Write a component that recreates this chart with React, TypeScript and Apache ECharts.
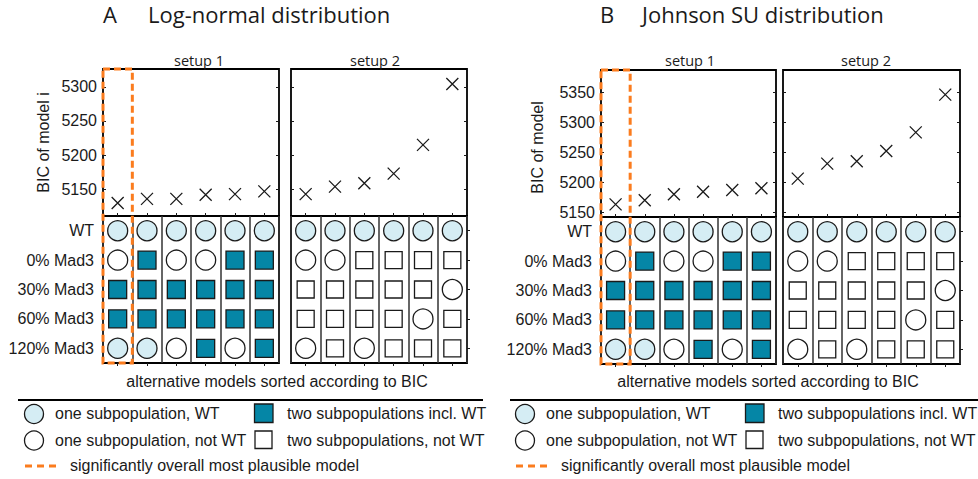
import React, { useEffect, useRef } from 'react';
import * as echarts from 'echarts';

// ---------------- data ----------------
const MODEL_IDS = ['1', '2', '3', '4', '5', '6'];
const ROW_LABELS = ['WT', '0% Mad3', '30% Mad3', '60% Mad3', '120% Mad3'];

const A_TICKS = [5150, 5200, 5250, 5300];
const B_TICKS = [5150, 5200, 5250, 5300, 5350];

const A_SETUP1_BIC = [5130, 5136, 5136, 5142, 5143, 5147];
const A_SETUP2_BIC = [5143, 5154, 5159, 5173, 5215, 5304];
const B_SETUP1_BIC = [5163, 5170, 5180, 5184, 5187, 5190];
const B_SETUP2_BIC = [5206, 5231, 5235, 5252, 5283, 5346];

// W = one subpopulation, WT; O = one subpopulation, not WT
// T = two subpopulations incl. WT; S = two subpopulations, not WT
// one string per row (WT, 0%, 30%, 60%, 120%), one char per model column
const A_SETUP1_MODELS = ['WWWWWW', 'OTOOTT', 'TTTTTT', 'TTTTTT', 'WWOTOT'];
const A_SETUP2_MODELS = ['WWWWWW', 'OOSSSS', 'SSSSSO', 'SSSSOS', 'OSOSSS'];
const B_SETUP1_MODELS = ['WWWWWW', 'OTOOTT', 'TTTTTT', 'TTTTTT', 'WWOTOT'];
const B_SETUP2_MODELS = ['WWWWWW', 'OOSSSS', 'SSSSSO', 'SSSSOS', 'OSOSSS'];

const SETUP_LABELS = ['setup 1', 'setup 2'];
const X_NAME = 'alternative models sorted according to BIC';
const LEGEND_LABELS = {
  W: 'one subpopulation, WT',
  T: 'two subpopulations incl. WT',
  O: 'one subpopulation, not WT',
  S: 'two subpopulations, not WT',
  best: 'significantly overall most plausible model',
};

// ---------------- styles ----------------
const ARIAL = '"Liberation Sans", Arial, Helvetica, sans-serif';
const TITLE_FONT = '"Open Sans", "Noto Sans", sans-serif';
const INK = '#1a1a1a';
const LIGHT_BLUE = '#d5edf4';
const TEAL = '#0586a6';
const ORANGE = '#fb7c1e';

const CELL_STYLE: Record<string, { symbol: string; size: number; fill: string }> = {
  W: { symbol: 'circle', size: 20, fill: LIGHT_BLUE },
  O: { symbol: 'circle', size: 20, fill: '#ffffff' },
  T: { symbol: 'rect', size: 18, fill: TEAL },
  S: { symbol: 'rect', size: 17, fill: '#ffffff' },
};

const CROSS = 'path://M0 0L10 10M10 0L0 10';

const PANELS = [
  {
    letter: 'A',
    title: 'Log-normal distribution',
    letterX: 103,
    titleX: 148,
    yName: 'BIC of model i',
    nameGap: 52,
    namePad: [0, 0, 0, 0],
    s1: [103, 176],
    s2: [291, 176],
    top: 69,
    mid: 216,
    bottom: 363,
    yMin: 5111,
    yMax: 5326,
    ticks: A_TICKS,
    bic: [A_SETUP1_BIC, A_SETUP2_BIC],
    models: [A_SETUP1_MODELS, A_SETUP2_MODELS],
    setupX: [199, 375],
    xNameX: 277,
    legLeft: 0,
    sepX: [18, 483],
  },
  {
    letter: 'B',
    title: 'Johnson SU distribution',
    letterX: 600,
    titleX: 642,
    yName: 'BIC of model',
    nameGap: 56,
    namePad: [0, 8, 0, 0],
    s1: [601, 175],
    s2: [783, 177],
    top: 70,
    mid: 217,
    bottom: 364,
    yMin: 5142,
    yMax: 5387,
    ticks: B_TICKS,
    bic: [B_SETUP1_BIC, B_SETUP2_BIC],
    models: [B_SETUP1_MODELS, B_SETUP2_MODELS],
    setupX: [690, 866],
    xNameX: 768,
    legLeft: 491,
    sepX: [510, 978],
  },
];

function buildOption() {
  const grid: any[] = [];
  const xAxis: any[] = [];
  const yAxis: any[] = [];
  const series: any[] = [];
  const graphic: any[] = [];

  const txt = (x: number, y: number, text: string, extra: any = {}) => ({
    type: 'text',
    x,
    y,
    silent: true,
    style: {
      text,
      fill: INK,
      font: `16px ${ARIAL}`,
      verticalAlign: 'middle',
      align: 'left',
      ...extra,
    },
  });

  PANELS.forEach((p) => {
    [p.s1, p.s2].forEach((sx, si) => {
      const first = si === 0;
      const gs = grid.length;
      grid.push({
        left: sx[0], width: sx[1], top: p.top, height: p.mid - p.top,
        show: true, borderColor: '#000', borderWidth: 1.8,
        containLabel: false, outerBoundsMode: 'none',
      });
      const gm = grid.length;
      grid.push({
        left: sx[0], width: sx[1], top: p.mid, height: p.bottom - p.mid,
        show: true, borderColor: '#000', borderWidth: 1.8,
        containLabel: false, outerBoundsMode: 'none',
      });

      const xs = xAxis.length;
      xAxis.push({
        gridIndex: gs, type: 'category', data: MODEL_IDS, boundaryGap: true,
        axisLine: { show: false }, axisLabel: { show: false },
        axisTick: { show: true, inside: true, length: 3, alignWithLabel: true, interval: 0, lineStyle: { color: INK, width: 1 } },
        splitLine: { show: false },
      });
      const xm = xAxis.length;
      xAxis.push({
        gridIndex: gm, type: 'category', data: MODEL_IDS, boundaryGap: true,
        axisLine: { show: false }, axisLabel: { show: false },
        axisTick: { show: true, inside: false, length: 3, alignWithLabel: true, interval: 0, lineStyle: { color: INK, width: 1 } },
        splitLine: { show: true, interval: 0, lineStyle: { color: '#333', width: 1.5 } },
      });

      const yl = yAxis.length;
      yAxis.push({
        gridIndex: gs, type: 'value', position: 'left', min: p.yMin, max: p.yMax,
        axisLine: { show: false }, splitLine: { show: false },
        axisTick: { show: true, inside: true, length: 3, customValues: p.ticks, lineStyle: { color: INK, width: 1 } },
        axisLabel: {
          show: first, customValues: p.ticks, margin: 6, fontSize: 16, fontFamily: ARIAL, color: INK,
          formatter: (v: number) => String(v),
        },
        name: first ? p.yName : '',
        nameLocation: 'middle',
        nameGap: p.nameGap,
        nameMoveOverlap: false,
        nameTextStyle: { fontSize: 16, fontFamily: ARIAL, color: INK, padding: p.namePad },
      });
      yAxis.push({
        gridIndex: gs, type: 'value', position: 'right', min: p.yMin, max: p.yMax,
        axisLine: { show: false }, splitLine: { show: false },
        axisTick: { show: true, inside: true, length: 3, customValues: p.ticks, lineStyle: { color: INK, width: 1 } },
        axisLabel: { show: false },
      });
      const ym = yAxis.length;
      yAxis.push({
        gridIndex: gm, type: 'category', data: ROW_LABELS, inverse: true,
        position: first ? 'left' : 'right',
        axisLine: { show: false }, splitLine: { show: false },
        axisTick: { show: !first, alignWithLabel: true, length: 3, interval: 0, lineStyle: { color: INK, width: 1 } },
        axisLabel: { show: first, interval: 0, margin: 9, fontSize: 16, fontFamily: ARIAL, color: INK },
      });

      series.push({
        type: 'scatter', xAxisIndex: xs, yAxisIndex: yl, silent: true,
        symbol: CROSS, symbolSize: 12,
        itemStyle: { color: 'rgba(0,0,0,0)', borderColor: INK, borderWidth: 1.3, opacity: 1 },
        data: p.bic[si].map((v, i) => [MODEL_IDS[i], v]),
      });

      const cells: any[] = [];
      p.models[si].forEach((row, r) => {
        row.split('').forEach((code, c) => {
          const st = CELL_STYLE[code];
          cells.push({
            value: [MODEL_IDS[c], ROW_LABELS[r]],
            symbol: st.symbol,
            symbolSize: st.size,
            itemStyle: { color: st.fill, borderColor: INK, borderWidth: 1.3, opacity: 1 },
          });
        });
      });
      series.push({ type: 'scatter', xAxisIndex: xm, yAxisIndex: ym, silent: true, data: cells });

      graphic.push(txt(p.setupX[si], 60, SETUP_LABELS[si], { font: `14.5px ${TITLE_FONT}`, align: 'center' }));
    });

    // titles
    graphic.push(txt(p.letterX, 14, p.letter, { font: `22px ${TITLE_FONT}` }));
    graphic.push(txt(p.titleX, 14, p.title, { font: `22px ${TITLE_FONT}` }));
    // x name
    graphic.push(txt(p.xNameX, 381, X_NAME, { align: 'center' }));

    // highlighted best model (first column of setup 1)
    graphic.push({
      type: 'rect', z: 100, silent: true,
      shape: { x: p.s1[0], y: p.top, width: p.s1[1] / MODEL_IDS.length, height: p.bottom - p.top },
      style: { fill: 'none', stroke: ORANGE, lineWidth: 3, lineDash: [7, 4] },
    });

    // legend
    const L = p.legLeft;
    graphic.push({
      type: 'line', silent: true,
      shape: { x1: p.sepX[0], y1: 400, x2: p.sepX[1], y2: 400 },
      style: { stroke: '#000', lineWidth: 2 },
    });
    graphic.push({ type: 'circle', silent: true, shape: { cx: L + 34, cy: 414, r: 9.5 }, style: { fill: LIGHT_BLUE, stroke: INK, lineWidth: 1.3 } });
    graphic.push(txt(L + 55, 413, LEGEND_LABELS.W));
    graphic.push({ type: 'rect', silent: true, shape: { x: L + 254.5, y: 404, width: 18.5, height: 18.5 }, style: { fill: TEAL, stroke: INK, lineWidth: 1.3 } });
    graphic.push(txt(L + 287, 413, LEGEND_LABELS.T));
    graphic.push({ type: 'circle', silent: true, shape: { cx: L + 34, cy: 440.5, r: 9.5 }, style: { fill: '#fff', stroke: INK, lineWidth: 1.3 } });
    graphic.push(txt(L + 55, 440, LEGEND_LABELS.O));
    graphic.push({ type: 'rect', silent: true, shape: { x: L + 255, y: 431, width: 17, height: 17.5 }, style: { fill: '#fff', stroke: INK, lineWidth: 1.3 } });
    graphic.push(txt(L + 287, 440, LEGEND_LABELS.S));
    graphic.push({ type: 'line', silent: true, shape: { x1: L + 25, y1: 466, x2: L + 57, y2: 466 }, style: { stroke: ORANGE, lineWidth: 3, lineDash: [7, 5] } });
    graphic.push(txt(L + 70, 465, LEGEND_LABELS.best));
  });

  return {
    animation: false,
    backgroundColor: '#ffffff',
    grid,
    xAxis,
    yAxis,
    series,
    graphic,
  };
}

export default function App() {
  const ref = useRef<HTMLDivElement>(null);
  useEffect(() => {
    if (!ref.current) return;
    const chart = echarts.init(ref.current, null, { renderer: 'svg' });
    chart.setOption(buildOption() as any);
    return () => chart.dispose();
  }, []);
  return (
    <div
      ref={ref}
      style={{ position: 'absolute', left: 0, top: 0, width: 978, height: 479, background: '#fff' }}
    />
  );
}
